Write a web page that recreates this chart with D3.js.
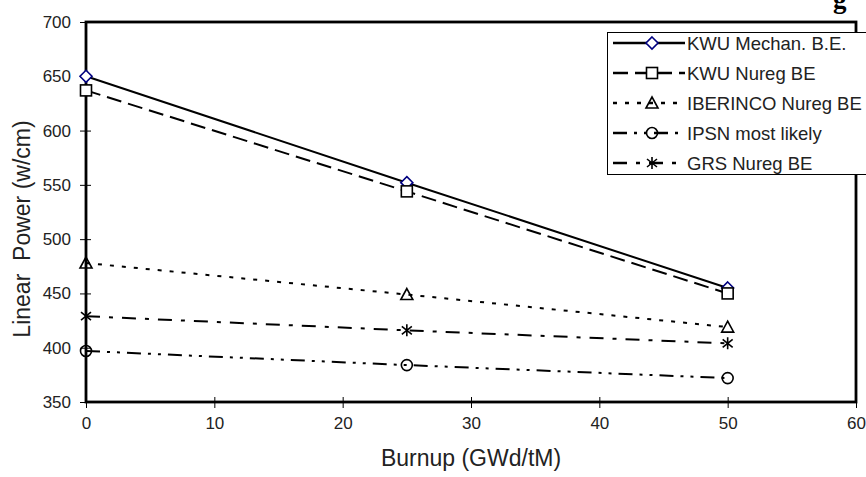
<!DOCTYPE html>
<html>
<head>
<meta charset="utf-8">
<script src="https://cdnjs.cloudflare.com/ajax/libs/d3/7.8.5/d3.min.js"></script>
<style>
  body { margin: 0; background: #fff; }
  svg { font-family: Arial, "Liberation Sans", sans-serif; }
</style>
</head>
<body>
<div id="chart"></div>
<script>
// values
var burnup     = [0, 25, 50];
var kwuMechan  = [650, 552, 455];
var kwuNureg   = [637, 544, 450];
var iberinco   = [478, 449, 419];
var ipsn       = [397, 384, 372];
var grs        = [429, 416, 404];
var seriesNames = ['KWU Mechan. B.E.', 'KWU Nureg BE', 'IBERINCO Nureg BE', 'IPSN most likely', 'GRS Nureg BE'];
var xTicks = [0, 10, 20, 30, 40, 50, 60];
var yTicks = [350, 400, 450, 500, 550, 600, 650, 700];

var width  = 866;
var height = 477;
var plot   = {left: 86, right: 856, top: 22, bottom: 402};

var styles = [
  {marker: 'diamond',  dash: null,               color: '#000080', width: 2},
  {marker: 'square',   dash: '15,7',             color: '#000',    width: 2},
  {marker: 'triangle', dash: '4,8',              color: '#000',    width: 2},
  {marker: 'circle',   dash: '14,7,3,7,3,7',     color: '#000',    width: 2},
  {marker: 'star',     dash: '14,9,4,9',         color: '#000',    width: 2}
];

var svg = d3.select('#chart').append('svg')
            .attr('width', width)
            .attr('height', height);

var x = d3.scaleLinear().domain([0, 60]).range([plot.left, plot.right]);
var y = d3.scaleLinear().domain([350, 700]).range([plot.bottom, plot.top]);

// cut off title, only the lower part of a "g" is left in the picture
svg.append('text').attr('x', 833).attr('y', 8)
   .style('font-family', '"Liberation Serif", serif')
   .style('font-weight', 'bold').style('font-size', '27px')
   .text('g');

// axes with ticks crossing the axis line
var yAxis = d3.axisLeft(y).tickValues(yTicks).tickSizeInner(6).tickSizeOuter(0).tickPadding(9);
var xAxis = d3.axisBottom(x).tickValues(xTicks).tickSizeInner(6).tickSizeOuter(0).tickPadding(9);

var gy = svg.append('g').attr('transform', 'translate(' + plot.left + ',0)').call(yAxis);
var gx = svg.append('g').attr('transform', 'translate(0,' + plot.bottom + ')').call(xAxis);

[gy, gx].forEach(function(g) {
  g.select('.domain').remove();
  g.selectAll('.tick line').attr('stroke', '#000').attr('stroke-width', 1);
  g.selectAll('.tick text').attr('fill', '#222').style('font-size', '17px')
   .style('font-family', 'Arial, "Liberation Sans", sans-serif');
});
gy.selectAll('.tick line').attr('x2', 5).attr('x1', -6);
gx.selectAll('.tick line').attr('y1', -5).attr('y2', 6);

// the frame
svg.append('rect')
   .attr('x', plot.left).attr('y', plot.top)
   .attr('width', plot.right - plot.left).attr('height', plot.bottom - plot.top)
   .attr('fill', 'none').attr('stroke', '#000').attr('stroke-width', 2.8);

svg.append('text')
   .attr('x', (plot.left + plot.right) / 2).attr('y', 466)
   .attr('text-anchor', 'middle').attr('fill', '#222')
   .style('font-size', '23px')
   .text('Burnup (GWd/tM)');

svg.append('text')
   .attr('transform', 'translate(30,229) rotate(-90)')
   .attr('text-anchor', 'middle').attr('fill', '#222')
   .style('font-size', '23px')
   .style('white-space', 'pre')
   .text('Linear  Power (w/cm)');

function drawMarker(g, type, cx, cy, color) {
  var m;
  if (type === 'diamond') {
    m = g.append('path').attr('d', 'M0,-6L6,0L0,6L-6,0Z').attr('fill', '#fff');
  } else if (type === 'square') {
    m = g.append('rect').attr('x', -5.5).attr('y', -5.5).attr('width', 11).attr('height', 11).attr('fill', '#fff');
  } else if (type === 'triangle') {
    m = g.append('path').attr('d', 'M0,-6L6,5L-6,5Z').attr('fill', 'none');
  } else if (type === 'circle') {
    m = g.append('circle').attr('r', 5.5).attr('fill', 'none');
  } else {
    m = g.append('path').attr('d', 'M0,-6L0,6M-5,-4L5,4M-5,4L5,-4').attr('fill', 'none');
  }
  m.attr('transform', 'translate(' + cx + ',' + cy + ')')
   .attr('stroke', color).attr('stroke-width', 1.6);
}

var allSeries = [kwuMechan, kwuNureg, iberinco, ipsn, grs];
var line = d3.line()
             .x(function(d, i) { return x(burnup[i]); })
             .y(function(d) { return y(d); });

allSeries.forEach(function(vals, s) {
  var st = styles[s];
  var g  = svg.append('g');
  g.append('path').datum(vals)
   .attr('d', line)
   .attr('fill', 'none').attr('stroke', '#000')
   .attr('stroke-width', st.width)
   .attr('stroke-dasharray', st.dash);
  vals.forEach(function(v, i) {
    drawMarker(g, st.marker, x(burnup[i]), y(v), st.color);
  });
});

// legend, runs off the right edge of the picture
var legend = svg.append('g');
legend.append('rect')
      .attr('x', 607.5).attr('y', 32.5).attr('width', 300).attr('height', 142)
      .attr('fill', '#fff').attr('stroke', '#000').attr('stroke-width', 1);

seriesNames.forEach(function(name, s) {
  var st = styles[s];
  var ly = 43 + s * 30;
  legend.append('line')
        .attr('x1', 613).attr('x2', 685).attr('y1', ly).attr('y2', ly)
        .attr('stroke', '#000').attr('stroke-width', 2.6)
        .attr('stroke-dasharray', st.dash);
  drawMarker(legend, st.marker, 652, ly, st.color);
  legend.append('text')
        .attr('x', 687).attr('y', ly + 6.5)
        .attr('fill', '#222').style('font-size', '18.5px')
        .text(name);
});
</script>
</body>
</html>
